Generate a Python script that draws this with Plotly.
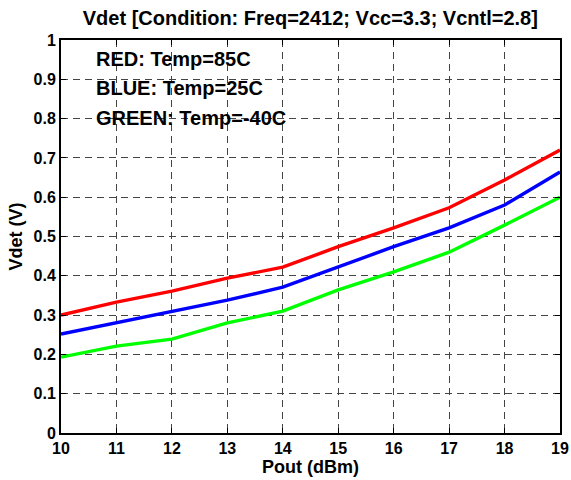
import plotly.graph_objects as go

pout = [10, 11, 12, 13, 14, 15, 16, 17, 18, 19]
vdet_85c = [0.300, 0.333, 0.361, 0.394, 0.422, 0.474, 0.522, 0.573, 0.644, 0.720]
vdet_25c = [0.252, 0.280, 0.308, 0.338, 0.371, 0.422, 0.474, 0.522, 0.580, 0.664]
vdet_m40c = [0.193, 0.221, 0.239, 0.280, 0.310, 0.364, 0.410, 0.460, 0.529, 0.600]

x_ticks = list(range(10, 20))
y_ticks = [0, 0.1, 0.2, 0.3, 0.4, 0.5, 0.6, 0.7, 0.8, 0.9, 1]
y_tick_text = ["0", "0.1", "0.2", "0.3", "0.4", "0.5", "0.6", "0.7", "0.8", "0.9", "1"]

labels = ["RED: Temp=85C", "BLUE: Temp=25C", "GREEN: Temp=-40C"]

font_family = "Liberation Sans, Arial, Helvetica, sans-serif"

fig = go.Figure()
for y, c in [(vdet_85c, "#ff0000"), (vdet_25c, "#0000ff"), (vdet_m40c, "#00ff00")]:
    fig.add_trace(go.Scatter(x=pout, y=y, mode="lines",
                             line=dict(color=c, width=3.4), showlegend=False))

for i, t in enumerate(labels):
    fig.add_annotation(x=10.6, y=0.952 - i * 0.075, xref="x", yref="y",
                       text="<b>%s</b>" % t, showarrow=False, xanchor="left",
                       yanchor="middle",
                       font=dict(size=20, color="black", family=font_family))

axis_common = dict(
    showline=True, linecolor="black", linewidth=2, mirror="ticks",
    ticks="inside", ticklen=5, tickcolor="black", tickwidth=1,
    showgrid=True, gridcolor="#444444", gridwidth=1, griddash="7px,5px",
    zeroline=False, automargin=False,
    tickfont=dict(size=16, color="black", family=font_family),
)

fig.update_xaxes(range=[10, 19], tickvals=x_ticks,
                 ticktext=["<b>%d</b>" % v for v in x_ticks],
                 title=dict(text="<b>Pout (dBm)</b>", standoff=4,
                            font=dict(size=18, color="black", family=font_family)),
                 **axis_common)
fig.update_yaxes(range=[0, 1], tickvals=y_ticks,
                 ticktext=["<b>%s</b>" % s for s in y_tick_text],
                 title=dict(text="<b>Vdet (V)</b>", standoff=6,
                            font=dict(size=18, color="black", family=font_family)),
                 **axis_common)

fig.update_layout(
    width=571, height=480,
    margin=dict(l=61, r=11, t=40, b=47),
    paper_bgcolor="white", plot_bgcolor="white",
    title=dict(text="<b>Vdet [Condition: Freq=2412; Vcc=3.3; Vcntl=2.8]</b>",
               x=0.5435, xanchor="center", y=0.962, yanchor="middle",
               font=dict(size=20, color="black", family=font_family)),
)

fig.write_html("out.html")
